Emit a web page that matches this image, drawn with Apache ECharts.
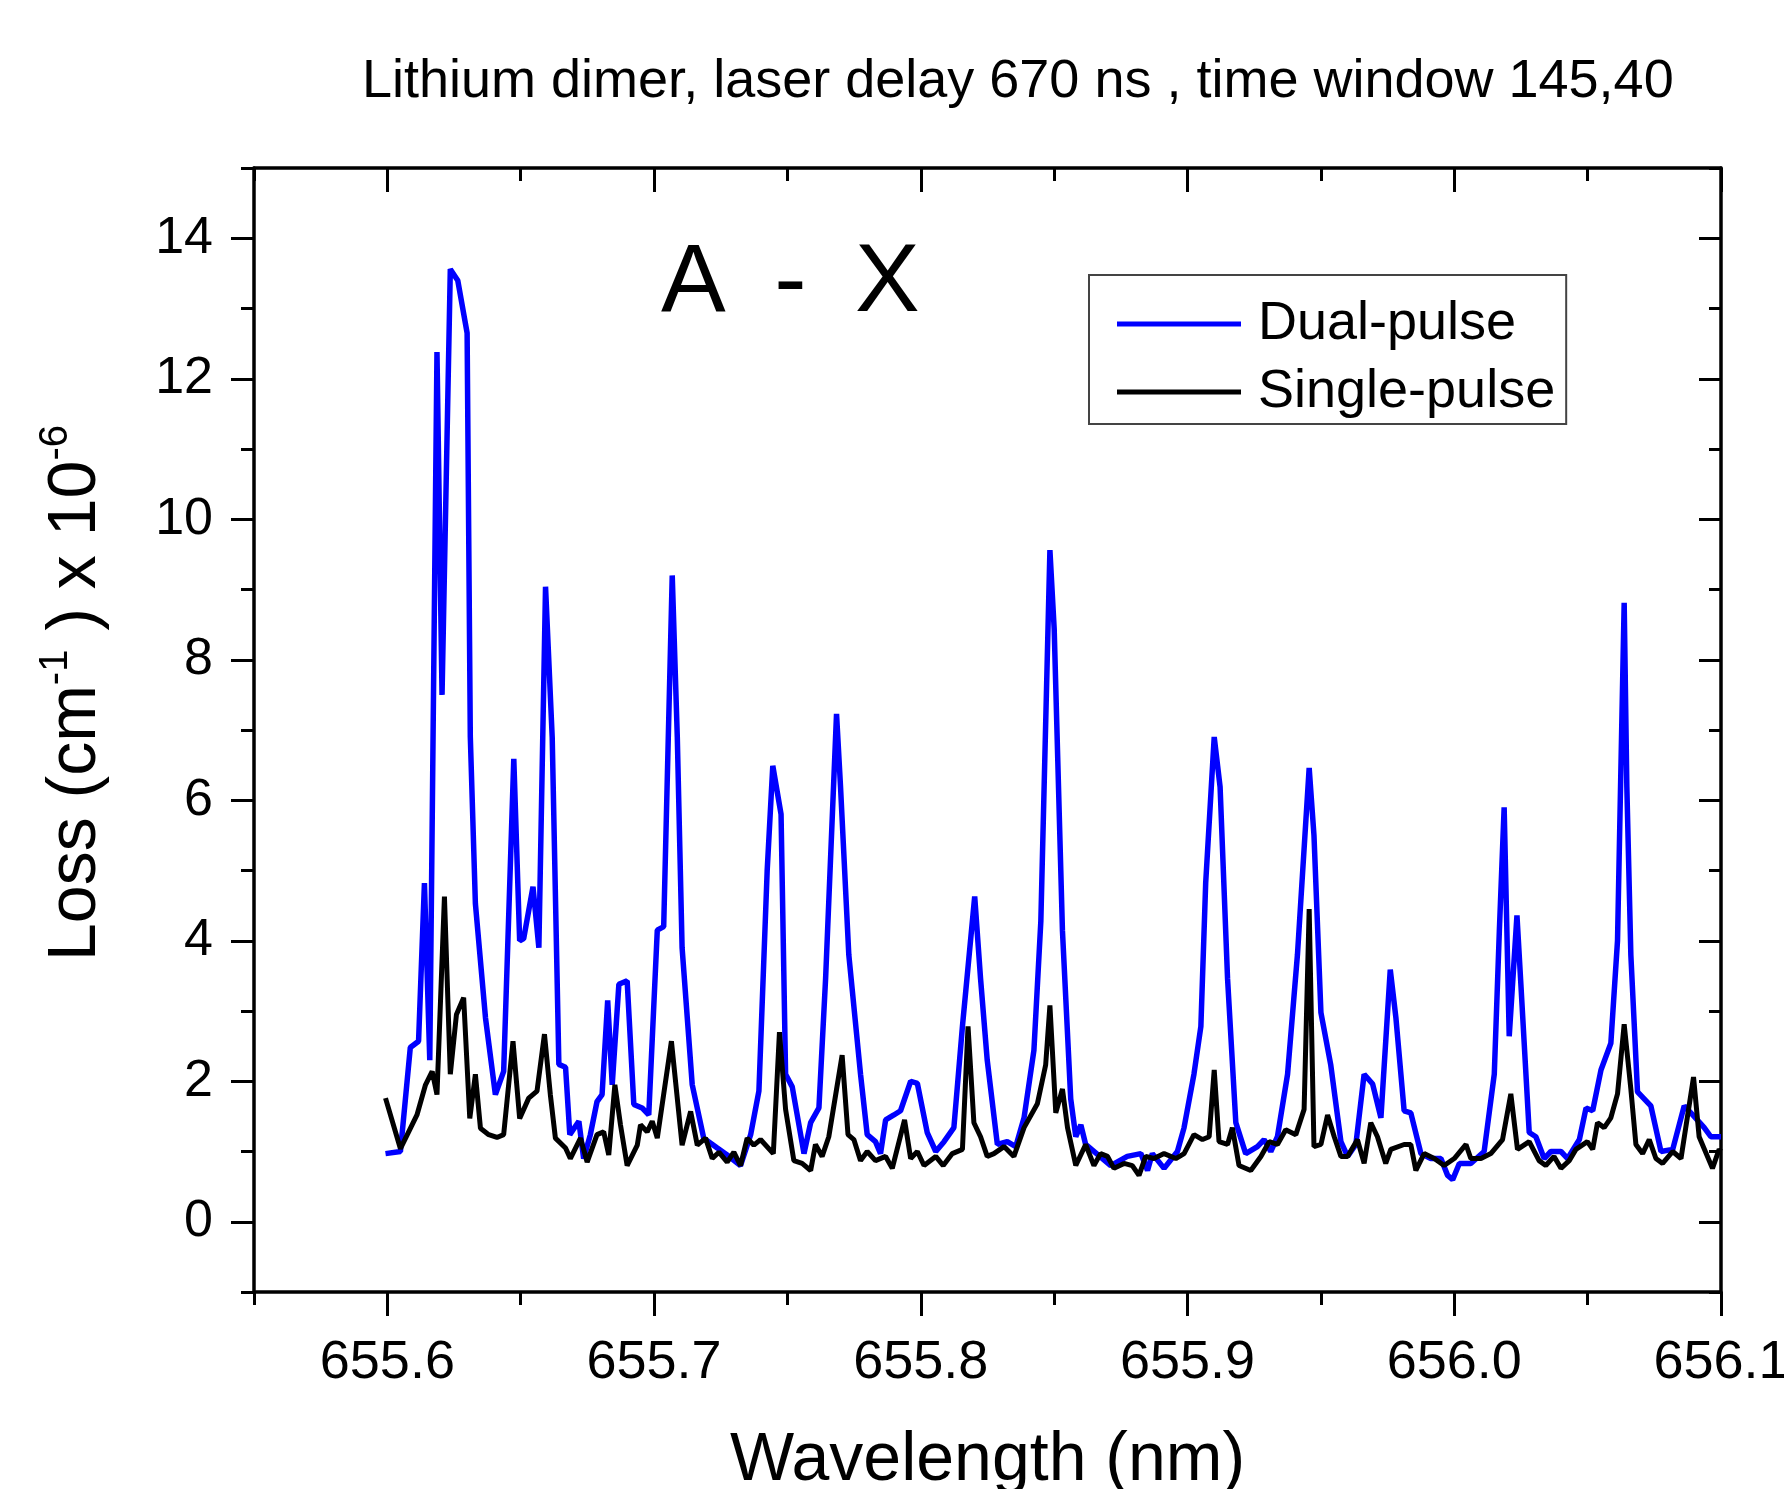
<!DOCTYPE html>
<html>
<head>
<meta charset="utf-8">
<script src="https://cdn.jsdelivr.net/npm/echarts@6/dist/echarts.min.js"></script>
<style>
html,body{margin:0;padding:0;background:#fff;}
#chart{width:1784px;height:1489px;}
</style>
</head>
<body>
<div id="chart"></div>
<script>
// ---- data ----
const titleText = 'Lithium dimer, laser delay 670 ns , time window 145,40';
const seriesNames = ['Dual-pulse', 'Single-pulse'];

const wavelengthDual = [655.5993,655.6049,655.6086,655.6117,655.6139,655.6159,655.6186,655.6205,655.6236,655.6264,655.6299,655.6311,655.6330,655.6368,655.6405,655.6436,655.6474,655.6496,655.6511,655.6546,655.6568,655.6593,655.6618,655.6643,655.6668,655.6684,655.6718,655.6736,655.6761,655.6786,655.6805,655.6826,655.6843,655.6868,655.6899,655.6924,655.6955,655.6980,655.7012,655.7036,655.7068,655.7087,655.7105,655.7143,655.7186,655.7237,655.7274,655.7324,655.7362,655.7393,655.7424,655.7445,655.7476,655.7493,655.7518,655.7562,655.7587,655.7618,655.7643,655.7684,655.7699,655.7730,655.7774,655.7799,655.7830,655.7849,655.7868,655.7899,655.7924,655.7962,655.7987,655.8024,655.8056,655.8087,655.8124,655.8156,655.8202,655.8224,655.8249,655.8287,655.8324,655.8356,655.8387,655.8424,655.8450,655.8484,655.8500,655.8531,655.8562,655.8581,655.8600,655.8618,655.8712,655.8774,655.8825,655.8850,655.8868,655.8912,655.8962,655.8987,655.9024,655.9050,655.9068,655.9100,655.9122,655.9150,655.9181,655.9218,655.9262,655.9287,655.9312,655.9337,655.9375,655.9412,655.9456,655.9474,655.9500,655.9537,655.9575,655.9600,655.9631,655.9662,655.9694,655.9725,655.9760,655.9781,655.9812,655.9837,655.9875,655.9912,655.9950,655.9975,655.9994,656.0019,656.0062,656.0112,656.0150,656.0169,656.0187,656.0206,656.0235,656.0250,656.0281,656.0306,656.0337,656.0362,656.0400,656.0425,656.0469,656.0494,656.0519,656.0550,656.0587,656.0612,656.0637,656.0647,656.0662,656.0687,656.0737,656.0775,656.0819,656.0862,656.0894,656.0937,656.0962,656.1000];
const lossDual = [0.97,1.0,2.48,2.57,4.82,2.3,12.38,7.5,13.56,13.4,12.65,6.9,4.53,2.9,1.81,2.14,6.59,4.0,4.03,4.77,3.9,9.04,6.9,2.24,2.2,1.24,1.43,0.9,1.24,1.71,1.81,3.15,1.95,3.38,3.43,1.67,1.62,1.52,4.15,4.2,9.2,6.9,3.9,1.95,1.19,1.05,0.95,0.8,1.24,1.86,5.0,6.49,5.8,2.1,1.92,0.97,1.41,1.62,3.46,7.23,6.19,3.8,2.1,1.24,1.14,0.97,1.45,1.52,1.58,2.0,1.97,1.27,1.0,1.14,1.34,2.78,4.63,3.46,2.3,1.1,1.14,1.07,1.48,2.44,4.28,9.56,8.44,4.14,1.75,1.21,1.38,1.1,0.8,0.93,0.97,0.73,0.97,0.76,1.0,1.34,2.1,2.78,4.82,6.9,6.19,3.46,1.41,0.97,1.07,1.17,1.0,1.21,2.1,3.8,6.46,5.5,2.98,2.23,1.14,0.93,1.1,2.1,1.96,1.48,3.59,2.91,1.58,1.55,0.97,0.9,0.9,0.66,0.6,0.83,0.83,1.0,2.1,4.14,5.9,2.64,4.36,3.36,1.27,1.21,0.9,1.0,1.0,0.9,1.17,1.62,1.58,2.16,2.54,4.0,8.81,6.19,3.8,1.85,1.65,1.0,1.03,1.65,1.52,1.34,1.21,1.21];

const wavelengthSingle = [655.5993,655.6049,655.6111,655.6143,655.6168,655.6186,655.6214,655.6236,655.6259,655.6286,655.6309,655.6330,655.6349,655.6380,655.6411,655.6436,655.6471,655.6496,655.6530,655.6561,655.6589,655.6611,655.6630,655.6668,655.6686,655.6724,655.6749,655.6786,655.6811,655.6830,655.6853,655.6874,655.6899,655.6937,655.6949,655.6974,655.6993,655.7012,655.7065,655.7105,655.7137,655.7162,655.7193,655.7218,655.7243,655.7274,655.7299,655.7324,655.7349,655.7374,655.7399,655.7447,655.7470,655.7493,655.7524,655.7555,655.7587,655.7605,655.7630,655.7655,655.7705,655.7727,655.7749,655.7774,655.7799,655.7830,655.7868,655.7893,655.7939,655.7962,655.7987,655.8012,655.8056,655.8084,655.8118,655.8156,655.8177,655.8199,655.8224,655.8249,655.8274,655.8312,655.8349,655.8387,655.8437,655.8468,655.8484,655.8506,655.8531,655.8550,655.8581,655.8618,655.8649,655.8674,655.8700,655.8724,655.8762,655.8793,655.8818,655.8843,655.8874,655.8912,655.8956,655.8987,655.9024,655.9056,655.9081,655.9100,655.9118,655.9150,655.9168,655.9193,655.9237,655.9275,655.9306,655.9337,655.9368,655.9406,655.9437,655.9456,655.9474,655.9500,655.9525,655.9550,655.9575,655.9600,655.9637,655.9662,655.9687,655.9712,655.9743,655.9762,655.9812,655.9837,655.9856,655.9887,655.9925,655.9962,656.0000,656.0044,656.0062,656.0100,656.0137,656.0181,656.0212,656.0237,656.0281,656.0318,656.0343,656.0374,656.0400,656.0431,656.0456,656.0499,656.0519,656.0537,656.0562,656.0587,656.0612,656.0637,656.0662,656.0681,656.0706,656.0731,656.0756,656.0781,656.0819,656.0850,656.0897,656.0918,656.0968,656.0993,656.1000];
const lossSingle = [1.76,1.04,1.52,1.95,2.14,1.81,4.63,2.1,2.95,3.19,1.47,2.1,1.33,1.24,1.2,1.24,2.57,1.47,1.76,1.86,2.67,1.81,1.19,1.05,0.9,1.19,0.85,1.24,1.28,0.95,1.95,1.38,0.8,1.09,1.38,1.28,1.43,1.19,2.57,1.09,1.57,1.09,1.19,0.9,0.99,0.85,0.99,0.8,1.19,1.09,1.17,0.97,2.7,1.6,0.87,0.83,0.73,1.1,0.93,1.21,2.37,1.24,1.17,0.87,1.0,0.87,0.93,0.76,1.45,0.9,1.0,0.8,0.93,0.8,0.97,1.03,2.78,1.41,1.21,0.93,0.97,1.07,0.93,1.34,1.68,2.23,3.08,1.55,1.89,1.34,0.8,1.1,0.8,0.97,0.93,0.76,0.83,0.8,0.66,0.93,0.9,0.97,0.9,0.97,1.24,1.17,1.21,2.16,1.14,1.1,1.34,0.8,0.73,0.93,1.14,1.1,1.31,1.24,1.6,4.45,1.07,1.1,1.52,1.21,0.93,0.93,1.17,0.83,1.41,1.21,0.83,1.03,1.1,1.1,0.73,0.97,0.9,0.8,0.9,1.1,0.9,0.9,0.97,1.17,1.82,1.03,1.14,0.87,0.8,0.93,0.76,0.87,1.03,1.14,1.03,1.41,1.34,1.48,1.82,2.81,1.89,1.1,0.97,1.17,0.9,0.83,1.0,0.9,2.06,1.21,0.76,1.03,1.0];

const xMajorTicks = [655.6, 655.7, 655.8, 655.9, 656.0, 656.1];
const xMinorTicks = [655.55, 655.65, 655.75, 655.85, 655.95, 656.05];
const yMajorTicks = [0, 2, 4, 6, 8, 10, 12, 14];
const yMinorTicks = [-1, 1, 3, 5, 7, 9, 11, 13, 15];

// ---- chart ----
const FONT = "'Liberation Sans', Arial, Helvetica, sans-serif";
const zip = (xs, ys) => xs.map((x, i) => [x, ys[i]]);
const X_MIN = 655.55, X_MAX = 656.1, Y_MIN = -1, Y_MAX = 15;

function xAx(pos, ticks, len, inside, withLine, withLabel) {
  return {
    type: 'value', position: pos, min: X_MIN, max: X_MAX,
    axisLine: { show: withLine, onZero: false, lineStyle: { color: '#000', width: 3.5 } },
    axisTick: { show: true, inside: inside, length: len, customValues: ticks, lineStyle: { color: '#000', width: 3 } },
    axisLabel: withLabel ? {
      show: true, customValues: xMajorTicks, margin: 44, hideOverlap: false,
      formatter: v => Number(v).toFixed(1),
      color: '#000', fontSize: 54, fontFamily: FONT
    } : { show: false },
    splitLine: { show: false }
  };
}
function yAx(pos, ticks, len, inside, withLine, withLabel) {
  return {
    type: 'value', position: pos, min: Y_MIN, max: Y_MAX,
    axisLine: { show: withLine, onZero: false, lineStyle: { color: '#000', width: 3.5 } },
    axisTick: { show: true, inside: inside, length: len, customValues: ticks, lineStyle: { color: '#000', width: 3 } },
    axisLabel: withLabel ? {
      show: true, customValues: yMajorTicks, margin: 41,
      color: '#000', fontSize: 52, fontFamily: FONT
    } : { show: false },
    splitLine: { show: false }
  };
}

const xAxes = [
  xAx('bottom', xMajorTicks, 24, false, true, true),
  xAx('bottom', xMinorTicks, 13, false, false, false),
  xAx('top', xMajorTicks, 24, true, true, false),
  xAx('top', xMinorTicks, 13, true, false, false)
];
Object.assign(xAxes[0], {
  name: 'Wavelength (nm)', nameLocation: 'middle', nameGap: 135,
  nameTextStyle: { color: '#000', fontSize: 68, fontFamily: FONT }
});
const yAxes = [
  yAx('left', yMajorTicks, 23, false, true, true),
  yAx('left', yMinorTicks, 13, false, false, false),
  yAx('right', yMajorTicks, 22, true, true, false),
  yAx('right', yMinorTicks, 12, true, false, false)
];
Object.assign(yAxes[0], {
  name: '{b|Loss (cm}{s|-1}{b| ) x 10}{s|-6}', nameLocation: 'middle', nameGap: 138, nameRotate: 90,
  nameTextStyle: {
    color: '#000', fontFamily: FONT, padding: [0, 0, 0, 74],
    rich: {
      b: { fontSize: 68, fontFamily: FONT, color: '#000', lineHeight: 80 },
      s: { fontSize: 40, fontFamily: FONT, color: '#000', verticalAlign: 'top', lineHeight: 40 }
    }
  }
});

const chart = echarts.init(document.getElementById('chart'), null, { renderer: 'canvas' });
chart.setOption({
  animation: false,
  backgroundColor: '#fff',
  title: [
    { text: titleText, left: 362, top: 55, padding: 0,
      textStyle: { color: '#000', fontSize: 54, fontWeight: 'normal', fontFamily: FONT } },
    { text: 'A\u2002-\u2002X', left: 661, top: 236, padding: 0,
      textStyle: { color: '#000', fontSize: 97, fontWeight: 'normal', fontFamily: FONT } }
  ],
  grid: { left: 254, right: 63, top: 168, bottom: 197, containLabel: false, outerBoundsMode: 'none' },
  legend: {
    orient: 'vertical', left: 1089, top: 275,
    data: seriesNames,
    icon: 'rect',
    itemWidth: 124, itemHeight: 5, itemGap: 8,
    padding: [19, 11, 2, 28],
    borderColor: '#444', borderWidth: 2, backgroundColor: '#fff',
    textStyle: { color: '#000', fontSize: 54, fontFamily: FONT, lineHeight: 60, padding: [0, 0, 0, 12] }
  },
  xAxis: xAxes,
  yAxis: yAxes,
  series: [
    { name: seriesNames[0], type: 'line', xAxisIndex: 0, yAxisIndex: 0,
      data: zip(wavelengthDual, lossDual), symbol: 'none', showSymbol: false,
      itemStyle: { color: '#0000ff' }, lineStyle: { color: '#0000ff', width: 5.5 }, z: 2 },
    { name: seriesNames[1], type: 'line', xAxisIndex: 0, yAxisIndex: 0,
      data: zip(wavelengthSingle, lossSingle), symbol: 'none', showSymbol: false,
      itemStyle: { color: '#000000' }, lineStyle: { color: '#000000', width: 5 }, z: 3 }
  ]
});
</script>
</body>
</html>
